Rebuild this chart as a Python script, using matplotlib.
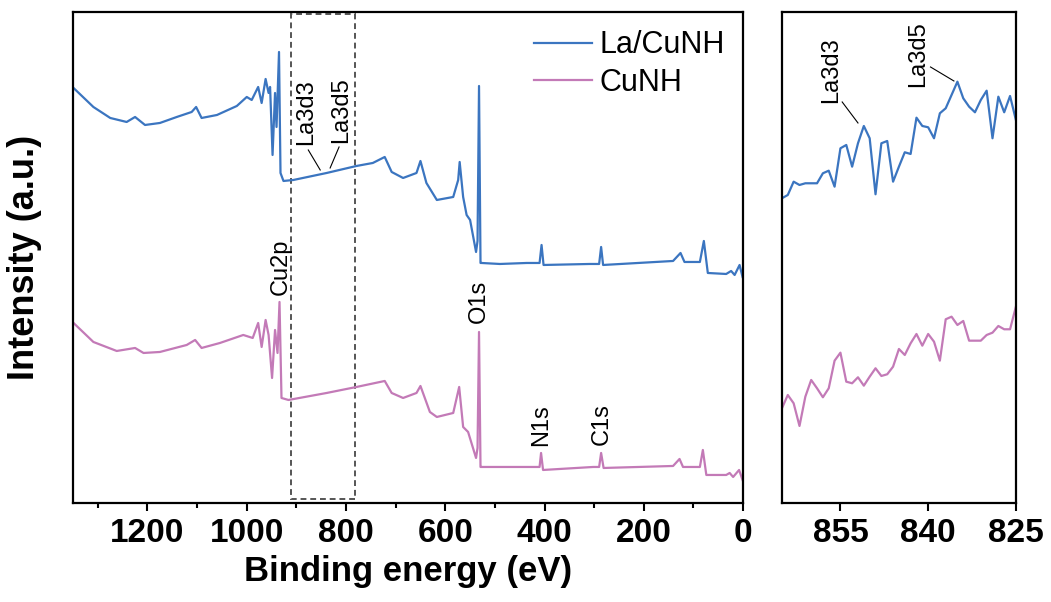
import matplotlib
matplotlib.use("Agg")
import matplotlib.pyplot as plt
from matplotlib.patches import Rectangle

plt.rcParams["font.family"] = ["Liberation Sans", "DejaVu Sans"]

BLUE = "#3b75c0"
PINK = "#c37ab7"

# survey spectra (binding energy eV, intensity a.u.)
survey_be_lacunh = [1349, 1309, 1275, 1242, 1225, 1205, 1175, 1141, 1111, 1102, 1091, 1060,
                    1020, 1000, 990, 977, 970, 962, 956, 953, 948, 943, 940, 935, 932, 926,
                    906, 839, 779, 746, 722, 708, 685, 658, 650, 638, 617, 584, 574, 571, 564,
                    557, 550, 538, 535, 532, 529, 527, 490, 436, 410, 406, 402, 309, 290, 286,
                    282, 141, 126, 118, 87, 79, 71, 34, 24, 17, 7, 1]
survey_i_lacunh = [415, 396, 385, 381, 386, 378, 380, 386, 391, 396, 385, 388,
                   397, 406, 403, 416, 400, 424, 410, 416, 348, 410, 376, 451, 330, 322,
                   323, 330, 337, 340, 346, 331, 325, 330, 342, 320, 303, 306, 323, 341, 306,
                   288, 283, 251, 262, 417, 240, 240, 239, 240, 240, 258, 238, 239, 239, 256,
                   238, 242, 250, 241, 241, 262, 230, 229, 232, 228, 238, 226]

survey_be_cunh = [1349, 1309, 1262, 1225, 1208, 1175, 1121, 1104, 1091, 1054, 1007, 988,
                  977, 970, 962, 956, 949, 943, 938, 934, 930, 916, 839, 779, 722, 708,
                  685, 658, 650, 631, 617, 584, 572, 564, 554, 538, 535, 532, 529, 527, 423,
                  410, 407, 403, 302, 290, 286, 281, 141, 128, 121, 87, 81, 74, 34, 27, 20,
                  8, 1]
survey_i_cunh = [180, 161, 152, 155, 150, 151, 158, 163, 155, 160, 168, 165,
                 180, 156, 183, 168, 125, 173, 150, 201, 105, 103, 110, 116, 122, 110,
                 105, 110, 117, 91, 86, 90, 116, 76, 71, 45, 55, 171, 36, 36, 36,
                 36, 50, 33, 36, 36, 50, 35, 37, 44, 36, 36, 53, 28, 28, 30, 26,
                 33, 23]

# La 3d region, 1 eV steps
la_be = list(range(865, 824, -1))
la_i_lacunh = [304.7, 308, 321.3, 318, 319.7, 319.7, 319.7, 329.7, 332.3, 316.3, 354.7,
               358, 336.3, 359.7, 377, 364.7, 308.7, 359.7, 362, 321.3, 336.3, 350.7,
               349, 385.3, 377, 375.7, 364.7, 389.7, 394.7, 408, 421.3, 404.7, 396.3,
               390.7, 403, 412.3, 364.7, 406.3, 390.7, 407, 383]
la_i_cunh = [94.7, 108, 99.7, 77, 106.3, 123, 114.7, 105.7, 114.7, 142.3, 150.3,
             121.3, 119.7, 125.7, 117.3, 126.3, 134.7, 127, 128.7, 136.3, 154, 148,
             159.7, 169, 157.3, 169, 161.3, 142.3, 183.7, 186.3, 178, 182, 162.3,
             162.3, 162.3, 168, 170.3, 177, 173.7, 173.7, 196.3]

# peak labels: (text, energy, text bottom intensity)
survey_labels = [("Cu2p", 931, 208), ("O1s", 532, 180), ("N1s", 407, 57), ("C1s", 285, 58)]
# La labels: (text, text x, text bottom, leader start, leader end)
survey_la = [("La3d3", 880, 358, (876, 353), (852, 333)),
             ("La3d5", 810, 360, (814, 356), (832, 335))]
zoom_la = [("La3d3", 856.6, 400, (854.7, 401), (852.0, 380)),
           ("La3d5", 841.7, 416, (839.6, 436), (835.6, 422))]
box_be = (911, 781)
box_i = (4, 489)

fig = plt.figure(figsize=(10.51, 6.02), dpi=100)
ax1 = fig.add_axes([0.0695, 0.1645, 0.6375, 0.8156])
ax2 = fig.add_axes([0.744, 0.1645, 0.2226, 0.8156])

ax1.plot(survey_be_lacunh, survey_i_lacunh, color=BLUE, lw=1.6, label="La/CuNH")
ax1.plot(survey_be_cunh, survey_i_cunh, color=PINK, lw=1.6, label="CuNH")
ax1.set_xlim(1350, 0)
ax1.set_ylim(0, 491)
ax1.add_patch(Rectangle((box_be[1], box_i[0]), box_be[0] - box_be[1], box_i[1] - box_i[0],
                        fill=False, ls=(0, (3, 2)), lw=1.4, ec="#555555"))

for txt, x, y in survey_labels:
    ax1.text(x, y, txt, rotation=90, ha="center", va="bottom", fontsize=17)
for txt, x, y, p0, p1 in survey_la:
    ax1.text(x, y, txt, rotation=90, ha="center", va="bottom", fontsize=17)
    ax1.plot([p0[0], p1[0]], [p0[1], p1[1]], color="black", lw=0.8)

ax1.legend(loc="upper right", frameon=False, fontsize=22, handlelength=1.9,
           handletextpad=0.25, labelspacing=0.25, borderaxespad=0.2)
ax1.set_xticks([1200, 1000, 800, 600, 400, 200, 0])
ax1.set_xticks(range(1300, 0, -200), minor=True)
ax1.set_yticks([])
ax1.set_xlabel("Binding energy (eV)", fontsize=25, fontweight="bold", labelpad=4)
ax1.set_ylabel("Intensity (a.u.)", fontsize=26, fontweight="bold", labelpad=22)

ax2.plot(la_be, la_i_lacunh, color=BLUE, lw=1.6)
ax2.plot(la_be, la_i_cunh, color=PINK, lw=1.6)
ax2.set_xlim(865, 825)
ax2.set_ylim(0, 491)
ax2.set_xticks([855, 840, 825])
ax2.set_yticks([])
for txt, x, y, p0, p1 in zoom_la:
    ax2.text(x, y, txt, rotation=90, ha="center", va="bottom", fontsize=17)
    ax2.plot([p0[0], p1[0]], [p0[1], p1[1]], color="black", lw=0.8)

for ax in (ax1, ax2):
    for s in ax.spines.values():
        s.set_linewidth(1.6)
    ax.tick_params(axis="x", which="major", direction="out", length=6, width=1.5,
                   labelsize=24, pad=5)
    ax.tick_params(axis="x", which="minor", direction="out", length=3.5, width=1.5)
    for lab in ax.get_xticklabels():
        lab.set_fontweight("bold")

fig.savefig("out.png", dpi=100)
plt.close(fig)
